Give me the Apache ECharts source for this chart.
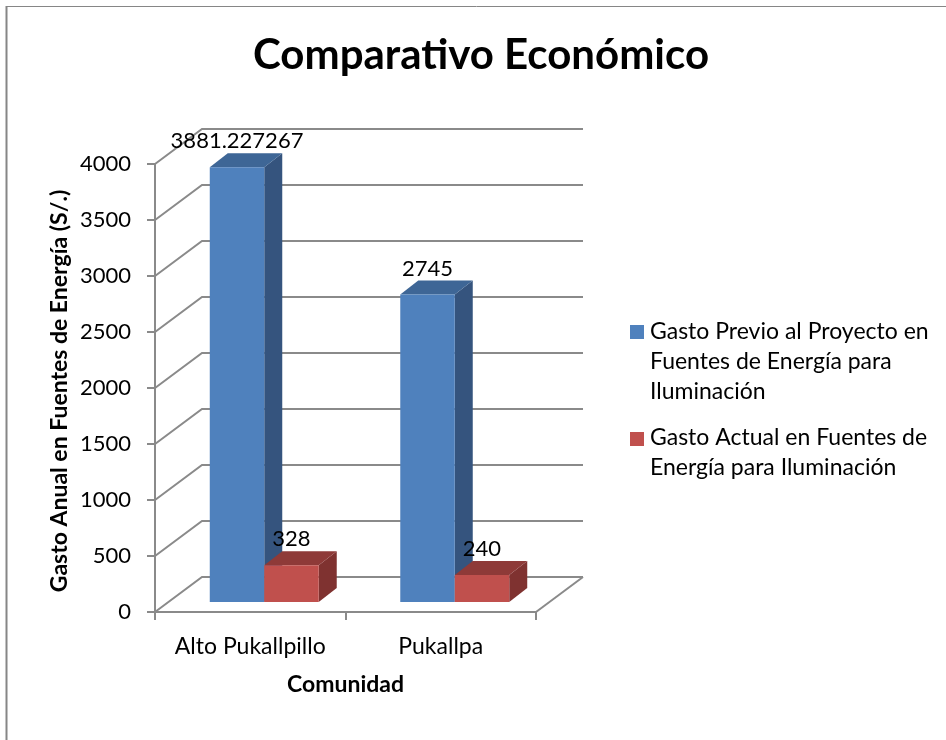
<!DOCTYPE html>
<html><head><meta charset="utf-8">
<style>html,body{margin:0;padding:0;background:#fff}#c{width:946px;height:740px}</style>
<script src="https://cdn.jsdelivr.net/npm/echarts@6/dist/echarts.min.js"></script>
</head><body><div id="c"></div>
<script>
const categories = ['Alto Pukallpillo', 'Pukallpa'];
const seriesPrevio = [3881.227267, 2745];
const seriesActual = [328, 240];
const labelsPrevio = ['3881.227267', '2745'];
const labelsActual = ['328', '240'];
const yTicks = [0, 500, 1000, 1500, 2000, 2500, 3000, 3500, 4000];
const namePrevio = 'Gasto Previo al Proyecto en\nFuentes de Energía para\nIluminación';
const nameActual = 'Gasto Actual en Fuentes de\nEnergía para Iluminación';

const FONT = 'Lato';
const WALL = '#8a8a8a';
const WALL_DX = 47, WALL_DY = -35;
const BAR_OFF_X = 14, BAR_OFF_Y = -10, BAR_DX = 18, BAR_DY = -14, BAR_RATIO = 0.286;

function wallItem(params, api) {
  const r = params.coordSys;
  const y = api.coord([0, api.value(0)])[1];
  const L = r.x, R = r.x + r.width;
  const children = [{
    type: 'polyline',
    shape: { points: [[L, y], [L + WALL_DX, y + WALL_DY], [R + WALL_DX, y + WALL_DY]] },
    style: { stroke: WALL, lineWidth: 2, fill: null }
  }];
  if (api.value(0) === 0) {
    children.push({
      type: 'line',
      shape: { x1: R, y1: y, x2: R + WALL_DX, y2: y + WALL_DY },
      style: { stroke: WALL, lineWidth: 2 }
    });
  }
  return { type: 'group', children };
}

function barRenderer(side, front, sideC, topC, labels) {
  return function (params, api) {
    const idx = api.value(0), val = api.value(1);
    const band = api.size([1, 0])[0];
    const w = band * BAR_RATIO;
    const top = api.coord([idx, val]), base = api.coord([idx, 0]);
    const x0 = top[0] + BAR_OFF_X + (side < 0 ? -w : 0), x1 = x0 + w;
    const yT = top[1] + BAR_OFF_Y, yB = base[1] + BAR_OFF_Y;
    return {
      type: 'group',
      children: [
        { type: 'polygon', shape: { points: [[x1, yT], [x1 + BAR_DX, yT + BAR_DY], [x1 + BAR_DX, yB + BAR_DY], [x1, yB]] }, style: { fill: sideC } },
        { type: 'polygon', shape: { points: [[x0, yT], [x0 + BAR_DX, yT + BAR_DY], [x1 + BAR_DX, yT + BAR_DY], [x1, yT]] }, style: { fill: topC } },
        { type: 'rect', shape: { x: x0, y: yT, width: w, height: yB - yT }, style: { fill: front } },
        { type: 'text', z2: 100, style: { text: labels[idx], x: (x0 + x1) / 2, y: yT + BAR_DY - 12, align: 'center', verticalAlign: 'middle', fill: '#000', font: '22px ' + FONT } }
      ]
    };
  };
}

const chart = echarts.init(document.getElementById('c'), null, { renderer: 'canvas' });
const axisLineStyle = { color: WALL, width: 2 };
chart.setOption({
  animation: false,
  backgroundColor: '#fff',
  title: {
    text: 'Comparativo Económico', left: 476, top: 29, textAlign: 'center',
    textStyle: { fontFamily: FONT, fontSize: 42, fontWeight: 'bold', color: '#000' }
  },
  grid: { left: 155, top: 164, width: 381, height: 448 },
  xAxis: {
    type: 'category', data: categories,
    name: 'Comunidad', nameLocation: 'middle', nameGap: 61,
    nameTextStyle: { fontFamily: FONT, fontSize: 23, fontWeight: 'bold', color: '#000' },
    axisLine: { lineStyle: axisLineStyle },
    axisTick: { show: true, length: 8, interval: 0, lineStyle: axisLineStyle },
    axisLabel: { fontFamily: FONT, fontSize: 23, color: '#000', margin: 23, interval: 0 },
    splitLine: { show: false }
  },
  yAxis: {
    type: 'value', min: 0, max: 4000, interval: 500,
    name: 'Gasto Anual en Fuentes de Energía (S/.)', nameLocation: 'middle', nameGap: 84,
    nameTextStyle: { fontFamily: FONT, fontSize: 23, fontWeight: 'bold', color: '#000', padding: [0, 6, 0, 0] },
    axisLine: { show: true, lineStyle: axisLineStyle },
    axisTick: { show: true, length: 8, lineStyle: axisLineStyle },
    axisLabel: { fontFamily: FONT, fontSize: 22, color: '#000', margin: 24, padding: [5, 0, 0, 0], formatter: v => String(v) },
    splitLine: { show: false }
  },
  legend: [
    {
      left: 630, top: 317, orient: 'vertical', padding: 0, itemGap: 0,
      itemWidth: 14, itemHeight: 74, selectedMode: false,
      icon: 'path://M0 0H14V14H0Z M0 74L14 74Z',
      data: [{ name: namePrevio }],
      textStyle: { fontFamily: FONT, fontSize: 23, lineHeight: 30, color: '#000', padding: [0, 0, 0, 1] },
      formatter: n => n
    },
    {
      left: 630, top: 423, orient: 'vertical', padding: 0, itemGap: 0,
      itemWidth: 14, itemHeight: 42, selectedMode: false,
      icon: 'path://M0 0H14V14H0Z M0 42L14 42Z',
      data: [{ name: nameActual }],
      textStyle: { fontFamily: FONT, fontSize: 23, lineHeight: 30, color: '#000', padding: [0, 0, 0, 1] },
      formatter: n => n
    }
  ],
  graphic: [
    { type: 'line', silent: true, shape: { x1: 7, y1: 6.5, x2: 946, y2: 6.5 }, style: { stroke: '#868686', lineWidth: 1 } },
    { type: 'line', silent: true, shape: { x1: 6.5, y1: 6, x2: 6.5, y2: 740 }, style: { stroke: '#868686', lineWidth: 2 } }
  ],
  series: [
    {
      type: 'custom', name: 'walls', coordinateSystem: 'cartesian2d', z: 1, silent: true, clip: false,
      encode: { y: 0 }, data: yTicks.map(v => [v]), renderItem: wallItem
    },
    {
      type: 'custom', name: namePrevio, coordinateSystem: 'cartesian2d', z: 2, clip: false,
      itemStyle: { color: '#4F81BD' }, encode: { x: 0, y: 1 },
      data: seriesPrevio.map((v, i) => [i, v]),
      renderItem: barRenderer(-1, '#4F81BD', '#35547E', '#3E6696', labelsPrevio)
    },
    {
      type: 'custom', name: nameActual, coordinateSystem: 'cartesian2d', z: 3, clip: false,
      itemStyle: { color: '#C0504D' }, encode: { x: 0, y: 1 },
      data: seriesActual.map((v, i) => [i, v]),
      renderItem: barRenderer(1, '#C0504D', '#7F3230', '#8E3A38', labelsActual)
    }
  ]
});
</script></body></html>
